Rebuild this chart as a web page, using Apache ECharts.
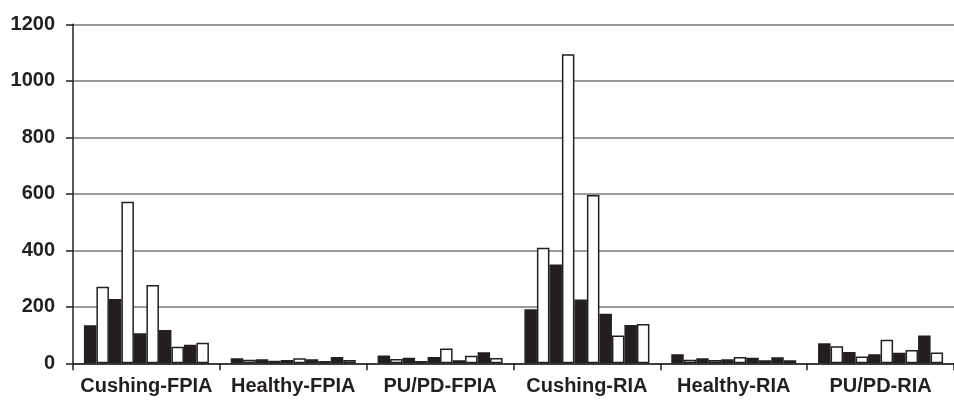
<!DOCTYPE html>
<html>
<head>
<meta charset="utf-8">
<script src="https://cdn.jsdelivr.net/npm/echarts@6/dist/echarts.min.js"></script>
<style>
html,body{margin:0;padding:0;background:#fff;}
#chart{width:954px;height:401px;}
</style>
</head>
<body>
<div id="chart"></div>
<script>
const categories = ['Cushing-FPIA', 'Healthy-FPIA', 'PU/PD-FPIA', 'Cushing-RIA', 'Healthy-RIA', 'PU/PD-RIA'];
const yTicks = [0, 200, 400, 600, 800, 1000, 1200];

// ten bars per group, alternating black / white
const bar1  = [135, 18, 28, 191, 32, 71];   // black
const bar2  = [271, 13, 15, 409, 13, 60];   // white
const bar3  = [228, 14, 20, 350, 18, 40];   // black
const bar4  = [572,  9,  8, 1094, 12, 24];  // white
const bar5  = [106, 12, 22, 226, 14, 32];   // black
const bar6  = [277, 18, 52, 596, 22, 83];   // white
const bar7  = [118, 14, 11, 175, 20, 37];   // black
const bar8  = [ 59,  8, 27,  98, 11, 47];   // white
const bar9  = [ 66, 22, 39, 136, 21, 98];   // black
const bar10 = [ 73, 12, 19, 139, 11, 38];   // white

const barSets = [bar1, bar2, bar3, bar4, bar5, bar6, bar7, bar8, bar9, bar10];
const INK = '#231f20';
const FONT = '"Liberation Sans", Arial, Helvetica, sans-serif';

const chart = echarts.init(document.getElementById('chart'), null, {renderer: 'canvas'});
chart.setOption({
  animation: false,
  backgroundColor: '#ffffff',
  grid: {left: 73, right: -8, top: 24.3, bottom: 37.7, containLabel: false},
  xAxis: {
    type: 'category',
    data: categories,
    axisLine: {show: true, lineStyle: {color: INK, width: 1.5}},
    axisTick: {show: true, alignWithLabel: false, interval: 0, length: 7, lineStyle: {color: INK, width: 1.5}},
    axisLabel: {interval: 0, margin: 13, color: INK, fontSize: 20, fontWeight: 'bold', fontFamily: FONT},
    splitLine: {show: false}
  },
  yAxis: {
    type: 'value',
    min: yTicks[0],
    max: yTicks[yTicks.length - 1],
    interval: 200,
    axisLine: {show: true, lineStyle: {color: INK, width: 1.5}},
    axisTick: {show: true, inside: false, length: 7, lineStyle: {color: INK, width: 1.5}},
    axisLabel: {margin: 18, color: INK, fontSize: 20, fontWeight: 'bold', fontFamily: FONT,
                formatter: v => String(v)},
    splitLine: {show: true, lineStyle: {color: '#7a7a7a', width: 1.5}}
  },
  series: barSets.map((d, i) => ({
    type: 'bar',
    data: d,
    barWidth: 12.5,
    barGap: '0%',
    itemStyle: {
      color: i % 2 === 0 ? INK : '#ffffff',
      borderColor: INK,
      borderWidth: 1.5
    }
  }))
});
</script>
</body>
</html>
